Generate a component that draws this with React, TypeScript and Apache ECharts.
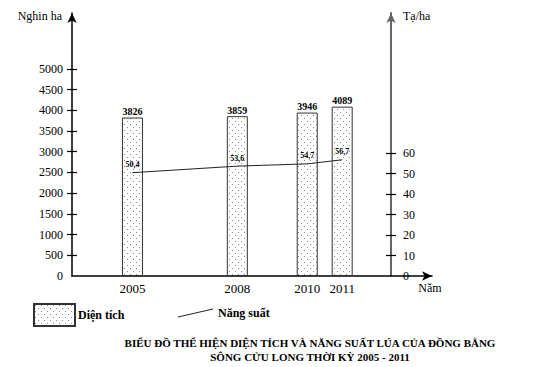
import React, { useEffect, useRef } from 'react';
import * as echarts from 'echarts';

const years = [2005, 2008, 2010, 2011];
const areaValues = [3826, 3859, 3946, 4089];
const yieldValues = [50.4, 53.6, 54.7, 56.7];
const yieldLabels = ['50,4', '53,6', '54,7', '56,7'];
const leftTickValues = [500, 1000, 1500, 2000, 2500, 3000, 3500, 4000, 4500, 5000];
const leftLabelValues = [0, 500, 1000, 1500, 2000, 2500, 3000, 3500, 4000, 4500, 5000];
const rightTickValues = [10, 20, 30, 40, 50, 60];
const rightLabelValues = [0, 10, 20, 30, 40, 50, 60];

const FONT = '"Liberation Serif", "Times New Roman", serif';

function makePattern(): HTMLCanvasElement {
  const c = document.createElement('canvas');
  c.width = 6;
  c.height = 6;
  const ctx = c.getContext('2d')!;
  ctx.fillStyle = '#ffffff';
  ctx.fillRect(0, 0, 6, 6);
  ctx.fillStyle = '#8a8a8a';
  ctx.fillRect(1, 1, 1, 1);
  ctx.fillRect(4, 4, 1, 1);
  return c;
}

export default function App() {
  const ref = useRef<HTMLDivElement>(null);
  useEffect(() => {
    if (!ref.current) return;
    const chart = echarts.init(ref.current, null, { renderer: 'svg' });
    const pattern = { image: makePattern(), repeat: 'repeat' } as any;
    const leftMax = 6350;
    const rightMax = 128.3;
    const arrow = { show: true, symbol: ['none', 'arrow'], symbolSize: [7, 10] };
    const num = (v: number) => String(v);
    chart.setOption({
      animation: false,
      backgroundColor: '#ffffff',
      textStyle: { fontFamily: FONT, color: '#000' },
      title: {
        text: 'BIỂU ĐỒ THỂ HIỆN DIỆN TÍCH VÀ NĂNG SUẤT LÚA CỦA ĐỒNG BẰNG\nSÔNG CỬU LONG THỜI KỲ 2005 - 2011',
        left: 305,
        top: 331,
        textAlign: 'center',
        textStyle: { fontFamily: FONT, fontSize: 11, fontWeight: 'bold', color: '#000', lineHeight: 14 },
      },
      legend: [
        {
          left: 33,
          top: 303,
          padding: 0,
          itemWidth: 41,
          itemHeight: 22,
          itemGap: 0,
          data: [{ name: 'Diện tích', icon: 'rect' }],
          textStyle: { fontFamily: FONT, fontSize: 12, fontWeight: 'bold', color: '#000', padding: [0, 0, 0, -2] },
        },
        {
          left: 178,
          top: 307,
          padding: 0,
          itemWidth: 35,
          itemHeight: 14,
          data: [{ name: 'Năng suất', icon: 'path://M0,10 L35,2 L35,3 L0,11 Z' }],
          textStyle: { fontFamily: FONT, fontSize: 12, fontWeight: 'bold', color: '#000' },
        },
      ],
      grid: { left: 72, right: 118, top: 13, bottom: 91 },
      xAxis: {
        type: 'value',
        min: 2003.27,
        max: 2013.57,
        splitLine: { show: false },
        axisLine: { ...arrow, lineStyle: { color: '#000', width: 1.5 } },
        axisTick: { show: false },
        axisLabel: {
          customValues: years,
          margin: 6,
          fontFamily: FONT,
          fontSize: 13,
          color: '#000',
          formatter: num,
        },
        name: 'Năm',
        nameLocation: 'end',
        nameGap: -2,
        nameTextStyle: { fontFamily: FONT, fontSize: 12, color: '#000', align: 'center', verticalAlign: 'top', padding: [6, 0, 0, 0] },
      },
      yAxis: [
        {
          type: 'value',
          position: 'left',
          min: 0,
          max: leftMax,
          splitLine: { show: false },
          axisLine: { ...arrow, lineStyle: { color: '#000', width: 1.5 } },
          axisTick: { show: true, customValues: leftTickValues, length: 5, lineStyle: { color: '#000', width: 1.2 } },
          axisLabel: { customValues: leftLabelValues, margin: 9, fontFamily: FONT, fontSize: 12, color: '#000', formatter: num },
          name: 'Nghin ha',
          nameLocation: 'end',
          nameGap: -3,
          nameTextStyle: { fontFamily: FONT, fontSize: 12, color: '#000', align: 'right', verticalAlign: 'middle', padding: [0, 10, 0, 0] },
        },
        {
          type: 'value',
          position: 'right',
          offset: -41,
          min: 0,
          max: rightMax,
          splitLine: { show: false },
          axisLine: { ...arrow, lineStyle: { color: '#666', width: 2 } },
          axisTick: { show: true, customValues: rightTickValues, length: 5, lineStyle: { color: '#000', width: 1.2 } },
          axisLabel: { customValues: rightLabelValues, margin: 12, fontFamily: FONT, fontSize: 12, color: '#000', formatter: num },
          name: 'Tạ/ha',
          nameLocation: 'end',
          nameGap: -3,
          nameTextStyle: { fontFamily: FONT, fontSize: 12, color: '#000', align: 'left', verticalAlign: 'middle', padding: [0, 0, 0, 12] },
        },
        {
          type: 'value',
          position: 'left',
          min: 0,
          max: leftMax,
          splitLine: { show: false },
          axisLine: { show: false },
          axisTick: { show: true, inside: true, customValues: leftTickValues, length: 5, lineStyle: { color: '#000', width: 1.2 } },
          axisLabel: { show: false },
        },
        {
          type: 'value',
          position: 'right',
          offset: -41,
          min: 0,
          max: rightMax,
          splitLine: { show: false },
          axisLine: { show: false },
          axisTick: { show: true, inside: true, customValues: rightTickValues, length: 5, lineStyle: { color: '#000', width: 1.2 } },
          axisLabel: { show: false },
        },
      ],
      series: [
        {
          name: 'Diện tích',
          type: 'bar',
          yAxisIndex: 0,
          barWidth: 21,
          data: years.map((y, i) => [y, areaValues[i]]),
          itemStyle: { color: pattern, borderColor: '#333', borderWidth: 1 },
          label: {
            show: true,
            position: 'top',
            distance: 1,
            fontFamily: FONT,
            fontSize: 10,
            fontWeight: 'bold',
            color: '#000',
            formatter: (p: any) => String(p.value[1]),
          },
        },
        {
          name: 'Năng suất',
          type: 'line',
          yAxisIndex: 1,
          showSymbol: true,
          symbol: 'circle',
          symbolSize: 0.1,
          data: years.map((y, i) => [y, yieldValues[i]]),
          lineStyle: { color: '#222', width: 1 },
          itemStyle: { color: '#222' },
          label: {
            show: true,
            position: 'top',
            distance: 4,
            fontFamily: FONT,
            fontSize: 8,
            fontWeight: 'bold',
            color: '#000',
            formatter: (p: any) => yieldLabels[p.dataIndex],
          },
        },
      ],
    });
    return () => chart.dispose();
  }, []);
  return <div ref={ref} style={{ position: 'fixed', left: 0, top: 0, width: 550, height: 367 }} />;
}
